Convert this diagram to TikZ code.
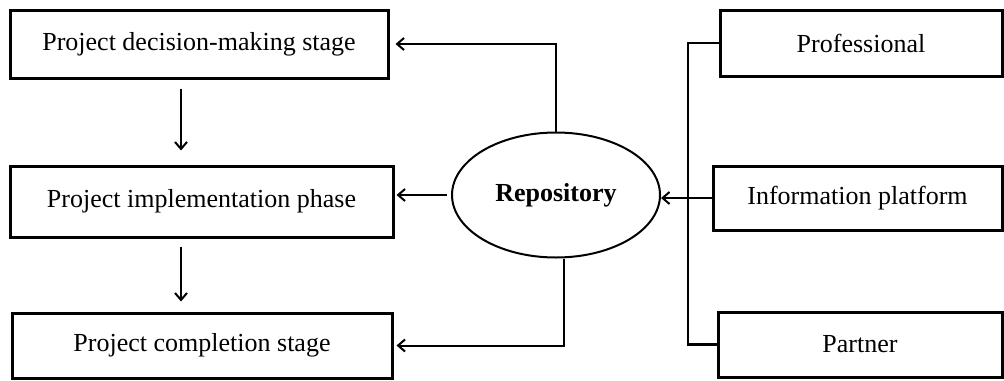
\documentclass[tikz,border=0pt]{standalone}
\usepackage{fontspec}
\setmainfont{Liberation Serif}
\usetikzlibrary{arrows.meta,shapes.geometric}
\begin{document}
\begin{tikzpicture}[x=0.5pt,y=-0.5pt,
  box/.style={draw,line width=1.5pt,rectangle,inner sep=0pt,font=\fontsize{13}{15}\selectfont},
  conn/.style={line width=1pt},
  arr/.style={conn,-{Straight Barb[length=3.5pt,width=6pt,line width=1pt]}}]
\useasboundingbox (0,0) rectangle (1004,380);
% left column
\node[box,minimum width=189pt,minimum height=34pt] (b1) at (199,44) {Project decision-making stage};
\node[box,minimum width=191.5pt,minimum height=35.5pt] (b2) at (201.5,201.5) {Project implementation phase};
\node[box,minimum width=190pt,minimum height=32.5pt] (b3) at (202,345.5) {Project completion stage};
% centre
\node[draw,ellipse,line width=1pt,minimum width=104pt,minimum height=62.5pt,inner sep=0pt,font=\fontsize{13}{15}\selectfont\bfseries] (rep) at (556,195) {Repository};
% right column
\node[box,minimum width=141pt,minimum height=33pt] (p1) at (861,43) {Professional};
\node[box,minimum width=144.5pt,minimum height=32pt] (p2) at (857.5,198) {Information platform};
\node[box,minimum width=142pt,minimum height=32.5pt] (p3) at (860,344.5) {Partner};
% helper coordinates
\coordinate (vx) at (181,0);
\coordinate (bx) at (688,0);
% left arrows
\draw[arr,shorten <=4.5pt,shorten >=7pt] (b1.south -| vx) -- (b2.north -| vx);
\draw[arr,shorten <=4pt,shorten >=5pt] (b2.south -| vx) -- (b3.north -| vx);
% repository to stages
\draw[arr,shorten >=3pt] (rep.north) |- (b1.east);
\draw[arr,shorten <=2pt,shorten >=1pt] (rep.west) -- (rep.west -| b2.east);
\draw[arr,shorten >=1.5pt] ([xshift=4pt]rep.south) |- (b3.east);
% sources to repository
\draw[conn,line width=1.2pt] (p1.west) -| (bx |- p3.west) -- (p3.west);
\draw[arr] (p2.west) -- (rep.east |- p2.west);
\end{tikzpicture}
\end{document}
